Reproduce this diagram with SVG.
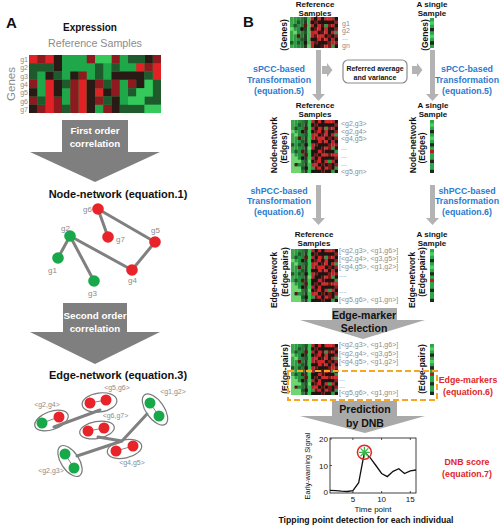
<svg xmlns="http://www.w3.org/2000/svg" xmlns:xlink="http://www.w3.org/1999/xlink" width="500" height="526" viewBox="0 0 500 526">
<style>
text{font-family:"Liberation Sans",Arial,sans-serif}
.h{font-weight:bold;fill:#111}
.lbl{fill:#8c8c8c;font-size:7px}
.nl{fill:#8c8c8c;font-size:8px}
.blue{fill:#2b7bd0;font-weight:bold;font-size:8.8px;text-anchor:middle}
.red{fill:#e0282a;font-weight:bold;font-size:8.8px;text-anchor:middle}
.edge{stroke:#808080;stroke-width:3;stroke-linecap:round;fill:none}
.nr{fill:#e8232a}.ng{fill:#18a84a}
.ell{fill:#fff;stroke:#7a7a7a;stroke-width:1.2}
.lnk{stroke:#666;stroke-width:0.8}
.varr{fill:#b3b3b3}
.big{fill:#7f7f7f}
.bigB{fill:#a9a9a9}
.wt{fill:#fff;font-weight:bold;font-size:9.8px;text-anchor:middle}
.bt{fill:#111;font-weight:bold;font-size:10.5px;text-anchor:middle}
.rl{font-weight:bold;font-size:8.5px;fill:#111;text-anchor:middle}
.sub{font-weight:bold;font-size:8px;fill:#111;text-anchor:middle}
</style>
<defs>
<g id="hmCells">
<rect x="0" y="0" width="1" height="16" fill="#3aa845"/>
<rect x="1" y="0" width="1" height="16" fill="#2e9a40"/>
<rect x="2" y="0" width="1" height="16" fill="#239040"/>
<rect x="3" y="0" width="1" height="16" fill="#2a7a36"/>
<rect x="4" y="0" width="1" height="16" fill="#243c22"/>
<rect x="5" y="0" width="1" height="16" fill="#3cc458"/>
<rect x="6" y="0" width="1" height="16" fill="#c0222a"/>
<rect x="7" y="0" width="1" height="16" fill="#6e1416"/>
<rect x="8" y="0" width="1" height="16" fill="#d22628"/>
<rect x="9" y="0" width="1" height="16" fill="#561212"/>
<rect x="10" y="0" width="1" height="16" fill="#d82628"/>
<rect x="11" y="0" width="1" height="16" fill="#801818"/>
<rect x="12" y="0" width="1" height="16" fill="#c42026"/>
<rect x="13" y="0" width="1" height="16" fill="#961c20"/>
<path fill="#1c1512" d="M6 1h1v1h-1zM7 2h1v1h-1zM9 0h1v1h-1zM11 3h1v1h-1zM8 4h1v1h-1zM10 5h1v1h-1zM12 1h1v1h-1zM6 6h1v1h-1zM9 7h1v1h-1zM13 6h1v1h-1zM7 8h1v1h-1zM11 9h1v1h-1zM8 10h1v1h-1zM12 11h1v1h-1zM6 12h1v1h-1zM10 13h1v1h-1zM9 14h1v1h-1zM13 12h1v1h-1zM7 15h1v1h-1zM11 15h1v1h-1zM3 3h1v1h-1zM4 7h1v1h-1zM3 11h1v1h-1zM12 5h1v1h-1zM10 9h1v1h-1zM8 13h1v1h-1zM6 9h1v1h-1zM13 2h1v1h-1zM4 14h1v1h-1zM9 3h1v1h-1zM11 6h1v1h-1zM8 7h1v1h-1zM12 14h1v1h-1zM10 1h1v1h-1zM7 11h1v1h-1zM6 3h1v1h-1zM6 10h1v1h-1zM6 15h1v1h-1zM7 6h1v1h-1zM7 0h1v1h-1zM8 1h1v1h-1zM8 8h1v1h-1zM8 15h1v1h-1zM9 11h1v2h-1zM10 7h1v1h-1zM10 11h2v1h-2zM11 1h1v1h-1zM12 3h1v1h-1zM12 9h1v1h-1zM12 13h1v1h-1zM13 0h1v1h-1zM13 8h1v1h-1zM13 15h1v1h-1zM7 9h1v1h-1zM9 1h1v1h-1zM10 15h1v1h-1zM11 4h1v1h-1z"/>
<path fill="#2c9a46" d="M13 4h1v1h-1zM12 8h1v1h-1zM11 12h1v1h-1zM13 14h1v1h-1zM10 2h1v1h-1zM12 15h1v1h-1zM6 14h1v1h-1zM13 9h1v1h-1z"/>
<path fill="#d52a2a" d="M7 4h1v1h-1zM9 10h1v1h-1zM11 0h1v1h-1zM13 10h1v1h-1zM7 13h1v1h-1zM9 5h1v1h-1z"/>
<path fill="#5a1515" d="M2 5h1v1h-1zM3 9h1v1h-1zM1 13h1v1h-1zM4 2h1v1h-1zM4 10h1v1h-1z"/>
<path fill="#1d5a2a" d="M1 2h1v1h-1zM2 7h1v1h-1zM3 6h1v1h-1zM0 7h1v1h-1zM2 1h1v1h-1zM3 14h1v1h-1zM1 9h1v1h-1zM4 0h1v1h-1zM4 4h1v1h-1zM4 12h1v1h-1z"/>
<path fill="#6fd472" d="M0 10h1v6h-1zM1 11h1v2h-1zM2 12h1v1h-1zM1 14h2v2h-2zM0 3h1v1h-1zM1 4h1v1h-1zM5 8h1v1h-1zM5 12h1v1h-1z"/>
</g>
<g id="colCells">
<rect x="0" y="0" width="1" height="16" fill="#2aa748"/>
<path fill="#1e2a1c" d="M0 3h1v1h-1zM0 7h1v1h-1zM0 12h1v1h-1zM0 15h1v1h-1z"/>
<path fill="#b02020" d="M0 9h1v1h-1z"/>
<path fill="#4cd060" d="M0 1h1v1h-1zM0 5h1v1h-1z"/>
</g>
</defs>

<!-- Panel A -->
<g id="panelA-title">
<text x="6" y="28" class="h" font-size="15">A</text>
<text x="90" y="31" class="h" font-size="10" text-anchor="middle">Expression</text>
<text x="95" y="47" fill="#8c8c8c" font-size="10.7" text-anchor="middle">Reference Samples</text>
</g>
<g id="heatmapA">
<g transform="translate(29,55) scale(8.25,8.29)">
<rect x="0" y="0" width="16" height="7" fill="#1fa84a"/>
<path fill="#e02226" d="M0 0h1v1h-1zM2 0h1v1h-1zM13 1h1v1h-1zM15 1h1v1h-1zM15 2h1v1h-1zM2 3h1v4h-1zM6 3h1v4h-1zM8 4h1v1h-1z"/>
<path fill="#8e1a1f" d="M1 0h1v1h-1zM7 0h1v1h-1zM10 0h1v1h-1zM15 0h1v1h-1zM14 1h1v1h-1zM6 2h1v1h-1zM0 3h1v1h-1zM5 3h1v1h-1zM8 3h1v1h-1zM10 3h1v1h-1zM12 3h1v1h-1zM5 4h1v1h-1zM10 4h1v1h-1zM0 5h1v1h-1zM3 5h1v1h-1zM5 5h1v1h-1zM8 5h1v1h-1zM1 6h1v1h-1zM3 6h1v1h-1zM5 6h1v1h-1zM9 6h1v1h-1z"/>
<path fill="#2a1a16" d="M3 0h1v1h-1zM14 0h1v1h-1zM3 1h1v1h-1zM2 2h1v1h-1zM5 2h1v1h-1zM10 2h4v1h-4zM3 3h1v1h-1zM7 3h1v1h-1zM13 3h1v1h-1zM0 4h1v1h-1zM3 4h1v1h-1zM7 4h1v1h-1zM9 4h1v1h-1zM7 5h1v1h-1zM10 5h1v1h-1zM0 6h1v1h-1zM7 6h1v1h-1zM10 6h1v1h-1z"/>
<path fill="#1f5a2c" d="M12 0h2v1h-2zM0 1h3v1h-3zM8 1h1v1h-1zM10 1h1v1h-1zM0 2h1v1h-1zM3 2h1v1h-1zM8 2h1v1h-1zM14 2h1v1h-1zM4 3h1v1h-1zM9 3h1v1h-1zM15 3h1v1h-1zM12 4h1v1h-1zM15 4h1v1h-1zM1 5h1v1h-1zM9 5h1v1h-1zM14 5h2v1h-2zM4 6h1v1h-1zM11 6h3v1h-3z"/>
<path fill="#35c85a" d="M8 0h2v1h-2zM14 3h1v1h-1zM13 4h2v1h-2zM12 5h2v1h-2zM14 6h2v1h-2z"/>
</g>
<g class="lbl" text-anchor="end">
<text x="28" y="62">g1</text><text x="28" y="70.3">g2</text><text x="28" y="78.6">g3</text><text x="28" y="86.9">g4</text><text x="28" y="95.2">g5</text><text x="28" y="103.5">g6</text><text x="28" y="111.8">g7</text>
</g>
<text transform="translate(15,84) rotate(-90)" text-anchor="middle" fill="#8c8c8c" font-size="11.5">Genes</text>
</g>
<g id="arrowA1">
<path class="big" d="M62 120H128V152H160L95 182L30 152H62Z"/>
<text x="95" y="134" class="wt">First order</text>
<text x="95" y="147" class="wt">correlation</text>
</g>
<g id="nodeNetwork">
<text x="118" y="198" class="h" font-size="11" text-anchor="middle">Node-network (equation.1)</text>
<g id="nn-edges">
<path class="edge" d="M98 209L108 237M98 209L155 242M155 242L132 270M70 236L132 270M70 236L58 258M70 236L94 281"/>
</g>
<g id="g6"><circle class="nr" cx="98" cy="209" r="5.8"/><text class="nl" x="92" y="212" text-anchor="end">g6</text></g>
<g id="g7"><circle class="nr" cx="108" cy="237" r="5.8"/><text class="nl" x="116" y="242">g7</text></g>
<g id="g5"><circle class="nr" cx="155" cy="242" r="5.8"/><text class="nl" x="151" y="233">g5</text></g>
<g id="g2"><circle class="ng" cx="70" cy="236" r="5.8"/><text class="nl" x="61" y="231">g2</text></g>
<g id="g1"><circle class="ng" cx="58" cy="258" r="5.8"/><text class="nl" x="48" y="273">g1</text></g>
<g id="g4"><circle class="nr" cx="132" cy="270" r="5.8"/><text class="nl" x="128" y="283">g4</text></g>
<g id="g3"><circle class="ng" cx="94" cy="281" r="5.8"/><text class="nl" x="88" y="296">g3</text></g>
</g>
<g id="arrowA2">
<path class="big" d="M63 303H127V332H160L95 364L30 332H63Z"/>
<text x="95" y="319" class="wt">Second order</text>
<text x="95" y="332" class="wt">correlation</text>
</g>
<g id="edgeNetwork">
<text x="118" y="379" class="h" font-size="11" text-anchor="middle">Edge-network (equation.3)</text>
<g id="en-g5g6"><ellipse class="ell" cx="99.5" cy="402.5" rx="17.5" ry="9.5" transform="rotate(-8 99.5 402.5)"/><line class="lnk" x1="90" y1="403" x2="106" y2="400"/><circle class="nr" cx="90" cy="403" r="5.5"/><circle class="nr" cx="106" cy="400" r="5.5"/><text class="lbl" x="117" y="390" text-anchor="middle">&lt;g5,g6&gt;</text></g>
<g id="en-g2g4"><ellipse class="ell" cx="51.5" cy="420.5" rx="17.5" ry="9" transform="rotate(-20 51.5 420.5)"/><line class="lnk" x1="42" y1="423" x2="59" y2="417"/><circle class="ng" cx="42" cy="423" r="5.5"/><circle class="nr" cx="59" cy="417" r="5.5"/><text class="lbl" x="47" y="407" text-anchor="middle">&lt;g2,g4&gt;</text></g>
<g id="en-g1g2"><ellipse class="ell" cx="155" cy="409.5" rx="18" ry="9" transform="rotate(55 155 409.5)"/><line class="lnk" x1="150" y1="403" x2="159" y2="416"/><circle class="ng" cx="150" cy="403" r="5.5"/><circle class="ng" cx="159" cy="416" r="5.5"/><text class="lbl" x="173" y="394" text-anchor="middle">&lt;g1,g2&gt;</text></g>
<g id="en-g6g7"><ellipse class="ell" cx="97" cy="430" rx="17.5" ry="8.5" transform="rotate(-10 97 430)"/><line class="lnk" x1="88" y1="431" x2="104" y2="428"/><circle class="nr" cx="88" cy="431" r="5.5"/><circle class="nr" cx="104" cy="428" r="5.5"/><text class="lbl" x="115.5" y="418" text-anchor="middle">&lt;g6,g7&gt;</text></g>
<g id="en-g4g5"><ellipse class="ell" cx="124.5" cy="449" rx="17.5" ry="9" transform="rotate(-12 124.5 449)"/><line class="lnk" x1="116" y1="451" x2="133" y2="446"/><circle class="nr" cx="116" cy="451" r="5.5"/><circle class="nr" cx="133" cy="446" r="5.5"/><text class="lbl" x="132" y="465" text-anchor="middle">&lt;g4,g5&gt;</text></g>
<g id="en-g2g3"><ellipse class="ell" cx="70" cy="461" rx="17.5" ry="9" transform="rotate(57 70 461)"/><line class="lnk" x1="65" y1="454" x2="74" y2="468"/><circle class="ng" cx="65" cy="454" r="5.5"/><circle class="ng" cx="74" cy="468" r="5.5"/><text class="lbl" x="51" y="473" text-anchor="middle">&lt;g2,g3&gt;</text></g>
<g id="en-connectors">
<path class="edge" stroke-width="2.7" d="M54 427L100 410M98 437L122 441M122 441L147 414M77 456L122 441"/>
</g>
</g>

<!-- Panel B -->
<g id="panelB-title"><text x="243" y="27" class="h" font-size="15">B</text></g>
<g id="refGenes">
<text x="315" y="7" class="sub">Reference</text>
<text x="315" y="16" class="sub">Samples</text>
<svg x="290" y="17" width="48" height="31" viewBox="0 0 14 9" preserveAspectRatio="none"><use xlink:href="#hmCells"/></svg>
<g class="lbl"><text x="342" y="26">g1</text><text x="342" y="33">g2</text><text x="342" y="40">...</text><text x="342" y="48">gn</text></g>
<text transform="translate(287,35) rotate(-90)" class="rl">(Genes)</text>
</g>
<g id="singleGenes">
<text x="432" y="7" class="sub">A single</text>
<text x="432" y="16" class="sub">Sample</text>
<svg x="430" y="18" width="4" height="30" viewBox="0 0 1 9" preserveAspectRatio="none"><use xlink:href="#colCells"/></svg>
<text transform="translate(428,35) rotate(-90)" class="rl">(Genes)</text>
</g>
<g id="referredBox">
<rect x="343" y="60" width="64" height="23" rx="5" fill="#fff" stroke="#8c8c8c" stroke-width="1.2"/>
<text x="375" y="71" class="h" font-size="7" text-anchor="middle">Referred average</text>
<text x="375" y="80" class="h" font-size="7" text-anchor="middle">and variance</text>
</g>
<g id="sPCC-left">
<text x="279" y="72" class="blue">sPCC-based</text>
<text x="279" y="83" class="blue">Transformation</text>
<text x="279" y="94" class="blue">(equation.5)</text>
</g>
<g id="sPCC-right">
<text x="467" y="72" class="blue">sPCC-based</text>
<text x="467" y="83" class="blue">Transformation</text>
<text x="467" y="94" class="blue">(equation.5)</text>
</g>
<g id="refEdges">
<text x="315" y="108" class="sub">Reference</text>
<text x="315" y="117" class="sub">Samples</text>
<svg x="291" y="120" width="47" height="53" viewBox="0 0 14 16" preserveAspectRatio="none"><use xlink:href="#hmCells"/></svg>
<g class="lbl"><text x="341" y="126">&lt;g2,g3&gt;</text><text x="341" y="134">&lt;g2,g4&gt;</text><text x="341" y="141">&lt;g4,g5&gt;</text><text x="341" y="150">...</text><text x="341" y="158">...</text><text x="341" y="166">...</text><text x="341" y="174">&lt;g5,gn&gt;</text></g>
<text transform="translate(277,145) rotate(-90)" class="rl">Node-network</text>
<text transform="translate(287,148) rotate(-90)" class="rl">(Edges)</text>
</g>
<g id="singleEdges">
<text x="433" y="108" class="sub">A single</text>
<text x="433" y="117" class="sub">Sample</text>
<svg x="430" y="120" width="4" height="53" viewBox="0 0 1 16" preserveAspectRatio="none"><use xlink:href="#colCells"/></svg>
<text transform="translate(416,145) rotate(-90)" class="rl">Node-network</text>
<text transform="translate(425,148) rotate(-90)" class="rl">(Edges)</text>
</g>
<g id="shPCC-left">
<text x="279" y="194" class="blue">shPCC-based</text>
<text x="279" y="204" class="blue">Transformation</text>
<text x="279" y="215" class="blue">(equation.6)</text>
</g>
<g id="shPCC-right">
<text x="467" y="194" class="blue">shPCC-based</text>
<text x="467" y="204" class="blue">Transformation</text>
<text x="467" y="215" class="blue">(equation.6)</text>
</g>
<g id="refPairs">
<text x="314" y="237" class="sub">Reference</text>
<text x="314" y="246" class="sub">Samples</text>
<svg x="291" y="249" width="47" height="53" viewBox="0 0 14 16" preserveAspectRatio="none"><use xlink:href="#hmCells"/></svg>
<g class="lbl"><text x="339" y="253">[&lt;g2,g3&gt;, &lt;g1,g6&gt;]</text><text x="339" y="261">[&lt;g2,g4&gt;, &lt;g3,g5&gt;]</text><text x="339" y="269">[&lt;g4,g5&gt;, &lt;g1,g2&gt;]</text><text x="339" y="277">....</text><text x="339" y="293">....</text><text x="339" y="302">[&lt;g5,g6&gt;, &lt;g1,gn&gt;]</text></g>
<text transform="translate(277,280) rotate(-90)" class="rl">Edge-network</text>
<text transform="translate(288,272) rotate(-90)" class="rl">(Edge-pairs)</text>
</g>
<g id="singlePairs">
<text x="432" y="237" class="sub">A single</text>
<text x="432" y="246" class="sub">Sample</text>
<svg x="430" y="249" width="4" height="53" viewBox="0 0 1 16" preserveAspectRatio="none"><use xlink:href="#colCells"/></svg>
<text transform="translate(415,280) rotate(-90)" class="rl">Edge-network</text>
<text transform="translate(425,272) rotate(-90)" class="rl">(Edge-pairs)</text>
</g>
<g id="arrowSelection">
<path class="bigB" d="M332 308H397V320H425L363 339L300 320H332Z"/>
<text x="364" y="319" class="bt">Edge-marker</text>
<text x="364" y="332" class="bt">Selection</text>
</g>
<g id="markers">
<svg x="291" y="344" width="47" height="51" viewBox="0 0 14 16" preserveAspectRatio="none"><use xlink:href="#hmCells"/></svg>
<g class="lbl"><text x="339" y="347">[&lt;g2,g3&gt;, &lt;g1,g6&gt;]</text><text x="339" y="356">[&lt;g2,g4&gt;, &lt;g3,g5&gt;]</text><text x="339" y="364">[&lt;g4,g5&gt;, &lt;g1,g2&gt;]</text><text x="339" y="381">...</text><text x="339" y="388">...</text><text x="339" y="395">[&lt;g5,g6&gt;, &lt;g1,gn&gt;]</text></g>
<text transform="translate(288,369) rotate(-90)" class="rl">(Edge-pairs)</text>
<svg x="430" y="344" width="4" height="51" viewBox="0 0 1 16" preserveAspectRatio="none"><use xlink:href="#colCells"/></svg>
<text transform="translate(425,369) rotate(-90)" class="rl">(Edge-pairs)</text>
<rect x="288" y="371" width="149" height="29" fill="none" stroke="#f5a623" stroke-width="2" stroke-dasharray="6 3"/>
<text x="468" y="383" class="red">Edge-markers</text>
<text x="468" y="395" class="red">(equation.6)</text>
</g>
<g id="arrowPrediction">
<path class="bigB" d="M332 401H397V416H425L365 433L300 416H332Z"/>
<text x="365" y="413" class="bt">Prediction</text>
<text x="365" y="427" class="bt">by DNB</text>
</g>
<g id="chart">
<rect x="330" y="438" width="86" height="55" fill="#fff" stroke="#111" stroke-width="0.8"/>
<path stroke="#111" stroke-width="0.7" d="M330 465.5h2M330 439h2M352.9 493v-2M381.6 493v-2M410.3 493v-2M352.9 438v2M381.6 438v2M410.3 438v2"/>
<g font-size="8" fill="#111" text-anchor="end"><text x="328" y="495">0</text><text x="328" y="468.5">10</text><text x="328" y="442">20</text></g>
<g font-size="8" fill="#111" text-anchor="middle"><text x="352.9" y="502">5</text><text x="381.6" y="502">10</text><text x="410.3" y="502">15</text></g>
<text x="373" y="511.5" font-size="8" fill="#111" text-anchor="middle">Time point</text>
<text transform="translate(310,466) rotate(-90)" font-size="7.3" fill="#111" text-anchor="middle">Early-warning Signal</text>
<polyline fill="none" stroke="#111" stroke-width="1.3" points="330,490.4 335.7,490.7 341.5,491.2 347.2,491.5 352.9,490.7 358.7,482.7 364.4,452.3 370.1,457.6 375.9,465.5 381.6,473.5 387.3,476.6 393.1,471.3 398.8,468.7 404.5,473.5 410.3,470.8 416,470"/>
<circle cx="364.4" cy="452.3" r="7" fill="none" stroke="#e8232a" stroke-width="1.5"/>
<path stroke="#3cb44b" stroke-width="1.3" d="M364.4 446.8v11M358.9 452.3h11M360.5 448.4l7.8 7.8M368.3 448.4l-7.8 7.8"/>
<text x="467" y="465" class="red">DNB score</text>
<text x="467" y="477" class="red">(equation.7)</text>
<text x="366" y="523" class="h" font-size="8.7" text-anchor="middle">Tipping point detection for each individual</text>
</g>
<g id="connectorsB">
<path class="varr" d="M316 50h5v44h4l-6.5 7l-6.5-7h4z"/>
<path class="varr" d="M430 50h5v44h4l-6.5 7l-6.5-7h4z"/>
<path class="varr" d="M316 185h5v33h4l-6.5 7l-6.5-7h4z"/>
<path class="varr" d="M430 185h5v33h4l-6.5 7l-6.5-7h4z"/>
<path class="varr" d="M322 66h5v-3l5.5 7l-5.5 7v-3h-5z"/>
<path class="varr" d="M412 66h5v-3l5.5 7l-5.5 7v-3h-5z"/>
</g>
</svg>
